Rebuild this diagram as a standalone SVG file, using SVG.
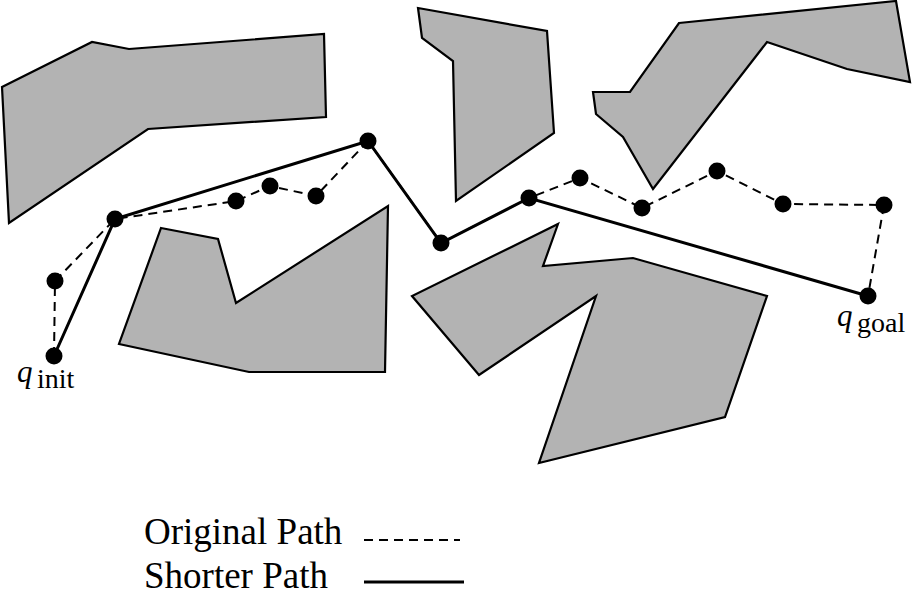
<svg xmlns="http://www.w3.org/2000/svg" width="912" height="596" viewBox="0 0 912 596">
<style>
.obs{fill:#b3b3b3;stroke:#000;stroke-width:2.2;stroke-linejoin:miter}
.orig{fill:none;stroke:#000;stroke-width:2;stroke-dasharray:9 6}
.short{fill:none;stroke:#000;stroke-width:3}
.node{fill:#000}
text{font-family:'Liberation Serif','Times New Roman',Tinos,'Noto Serif','DejaVu Serif',FreeSerif,Georgia,serif;fill:#000}
.q{font-style:italic;font-size:31px}
.sub{font-size:28px}
.leg{font-size:37px}
</style>
<rect width="912" height="596" fill="#fff"/>
<g id="obstacles">
<polygon id="obs1" class="obs" points="2,87 92,42 129,49 324,34 326,117 148,129 9,223"/>
<polygon id="obs2" class="obs" points="418,8 547,31 554,133 456,201 453,61 422,38"/>
<polygon id="obs3" class="obs" points="679,23 896,1 910,82 847,69 767,42 653,189 623,137 596,114 593,92 630,92"/>
<polygon id="obs4" class="obs" points="161,228 218,239 236,303 388,206 385,372 249,372 119,344"/>
<polygon id="obs5" class="obs" points="558,224 543,266 633,258 767,296 725,417 539,463 596,296 479,375 412,296"/>
</g>
<g id="connectors">
<polyline class="orig" points="54,356 55,281 115,219 236,201 270,186 316,196 368,141 441,243 529,198 580,178 642,208 717,171 783,204 884,205 868,296"/>
<polyline class="short" points="54,356 115,219 368,141 441,243 529,198 868,296"/>
</g>
<g id="nodes">
<circle id="n_init" class="node" cx="54" cy="356" r="8.5"/>
<circle id="n1" class="node" cx="55" cy="281" r="8.5"/>
<circle id="n2" class="node" cx="115" cy="219" r="8.5"/>
<circle id="n3" class="node" cx="236" cy="201" r="8.5"/>
<circle id="n4" class="node" cx="270" cy="186" r="8.5"/>
<circle id="n5" class="node" cx="316" cy="196" r="8.5"/>
<circle id="n6" class="node" cx="368" cy="141" r="8.5"/>
<circle id="n7" class="node" cx="441" cy="243" r="8.5"/>
<circle id="n8" class="node" cx="529" cy="198" r="8.5"/>
<circle id="n9" class="node" cx="580" cy="178" r="8.5"/>
<circle id="n10" class="node" cx="642" cy="208" r="8.5"/>
<circle id="n11" class="node" cx="717" cy="171" r="8.5"/>
<circle id="n12" class="node" cx="783" cy="204" r="8.5"/>
<circle id="n13" class="node" cx="884" cy="205" r="8.5"/>
<circle id="n_goal" class="node" cx="868" cy="296" r="8.5"/>
</g>
<g id="labels">
<text x="17" y="382"><tspan class="q">q</tspan><tspan class="sub" x="37" y="388">init</tspan></text>
<text x="837" y="326"><tspan class="q">q</tspan><tspan class="sub" x="857" y="332">goal</tspan></text>
</g>
<g id="legend">
<text class="leg" x="144" y="544">Original Path</text>
<line class="orig" x1="364" y1="540" x2="460" y2="540"/>
<text class="leg" x="144" y="588">Shorter Path</text>
<line class="short" x1="364" y1="582" x2="464" y2="582"/>
</g>
</svg>
